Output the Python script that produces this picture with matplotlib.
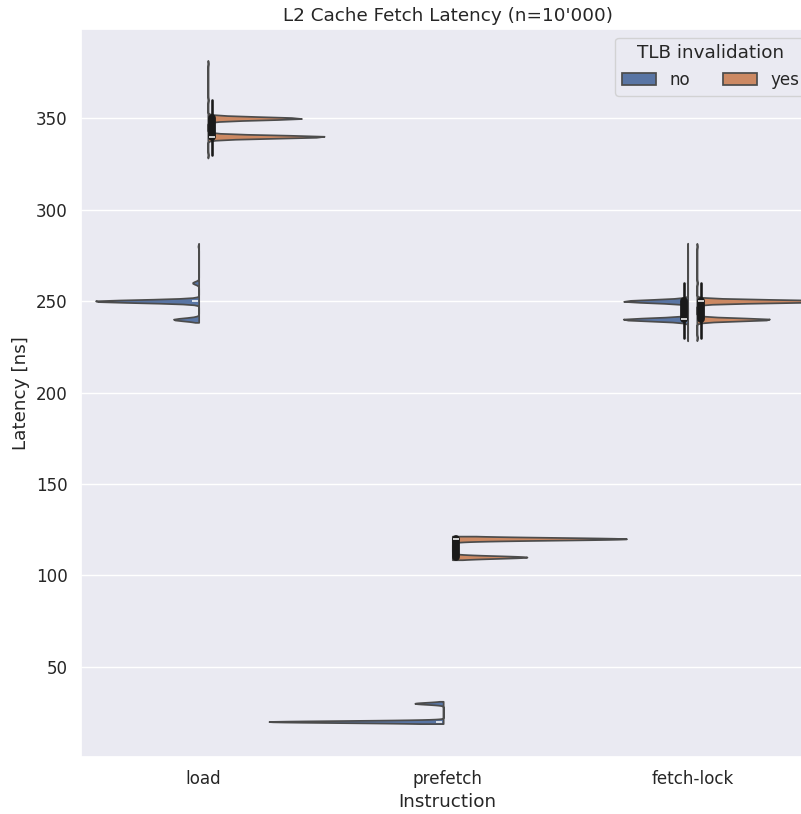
import matplotlib
matplotlib.use("Agg")
import matplotlib.pyplot as plt
import numpy as np
import pandas as pd
import seaborn as sns

instructions = ["load", "prefetch", "fetch-lock"]
tlb_levels = ["no", "yes"]

# latency levels [ns] and how many of the 10'000 samples fell on each level
load_no_ns = [240, 250, 260, 280]
load_no_count = [1850, 7650, 450, 50]
load_yes_ns = [330, 340, 350, 360, 380]
load_yes_count = [25, 5530, 4400, 25, 20]

prefetch_no_ns = [20, 30]
prefetch_no_count = [8600, 1400]
prefetch_yes_ns = [110, 120]
prefetch_yes_count = [3000, 7000]

fetch_lock_no_ns = [230, 240, 250, 260, 280]
fetch_lock_no_count = [30, 5000, 4920, 30, 20]
fetch_lock_yes_ns = [230, 240, 250, 260, 280]
fetch_lock_yes_count = [30, 3350, 6570, 30, 20]


def main():
    groups = [
        ("load", "no", load_no_ns, load_no_count),
        ("load", "yes", load_yes_ns, load_yes_count),
        ("prefetch", "no", prefetch_no_ns, prefetch_no_count),
        ("prefetch", "yes", prefetch_yes_ns, prefetch_yes_count),
        ("fetch-lock", "no", fetch_lock_no_ns, fetch_lock_no_count),
        ("fetch-lock", "yes", fetch_lock_yes_ns, fetch_lock_yes_count),
    ]
    frames = []
    for instr, tlb, ns, count in groups:
        frames.append(pd.DataFrame({
            "Instruction": instr,
            "TLB invalidation": tlb,
            "Latency [ns]": np.repeat(ns, count),
        }))
    df = pd.concat(frames, ignore_index=True)

    sns.set_theme(font_scale=1.1)
    fig = plt.figure(figsize=(8.01, 8.14), dpi=100)
    ax = fig.add_axes([81 / 801, 57.3 / 814, 733.5 / 801, 727.4 / 814])

    sns.violinplot(
        data=df, x="Instruction", y="Latency [ns]", hue="TLB invalidation",
        order=instructions, hue_order=tlb_levels,
        split=True, gap=0.05, width=1.5, inner="box",
        inner_kws=dict(color="#1a1a1a"), ax=ax,
    )
    ax.set_xlim(-0.5, 2.5)
    ax.set_ylim(0.8, 398.7)
    ax.set_title("L2 Cache Fetch Latency (n=10'000)")
    sns.move_legend(ax, "upper right", ncol=2, title="TLB invalidation")

    fig.savefig("out.png", dpi=100)


if __name__ == "__main__":
    main()
